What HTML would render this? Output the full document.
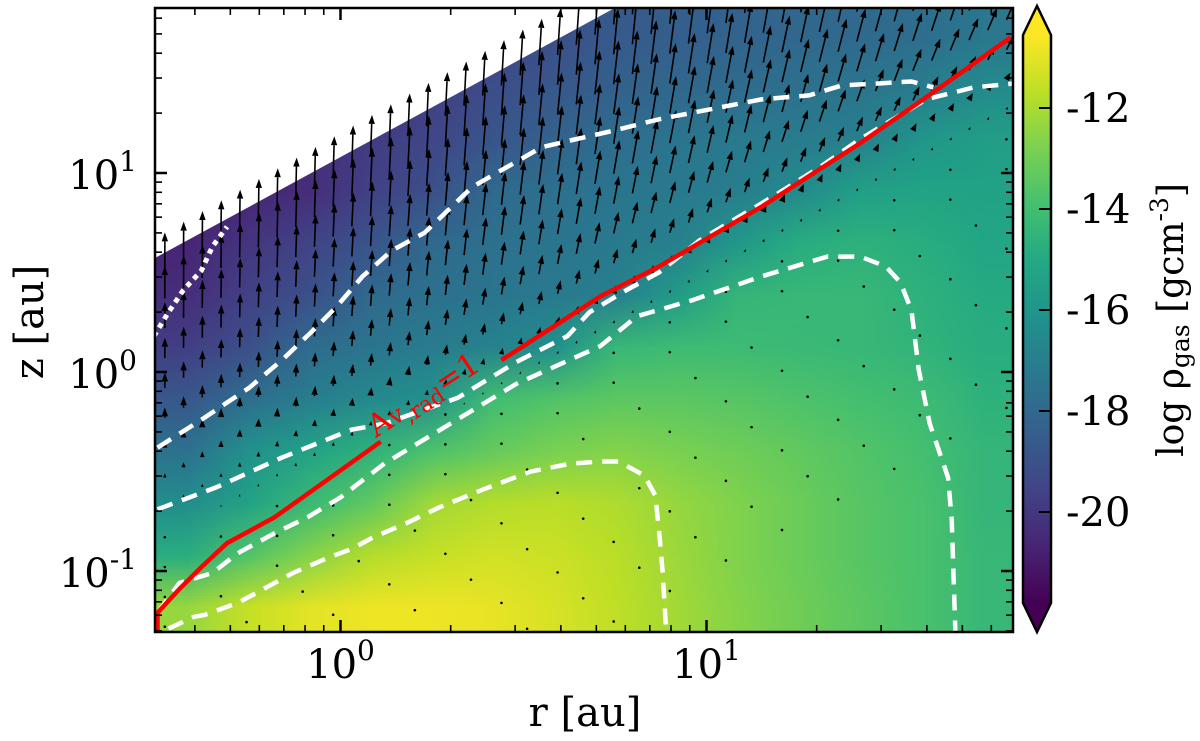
<!DOCTYPE html>
<html><head><meta charset="utf-8"><style>
html,body{margin:0;padding:0;background:#fff;}
#wrap{position:relative;width:1200px;height:741px;overflow:hidden;}
#heat{position:absolute;left:155px;top:8px;width:858px;height:624px;image-rendering:auto;}
#ov{position:absolute;left:0;top:0;}
text{font-family:"DejaVu Serif","Liberation Serif",serif;}
</style></head><body>
<div id="wrap">
<canvas id="heat" width="14" height="12"></canvas>
<svg id="ov" width="1200" height="741" xmlns="http://www.w3.org/2000/svg">
<defs>
<clipPath id="plotclip"><rect x="155" y="8" width="858" height="624"/></clipPath>
<linearGradient id="cbgrad" x1="0" y1="1" x2="0" y2="0">
<stop offset="0" stop-color="#440154"/><stop offset="0.1" stop-color="#482475"/><stop offset="0.2" stop-color="#414487"/><stop offset="0.3" stop-color="#355f8d"/><stop offset="0.4" stop-color="#2a788e"/><stop offset="0.5" stop-color="#21918c"/><stop offset="0.6" stop-color="#22a884"/><stop offset="0.7" stop-color="#44bf70"/><stop offset="0.8" stop-color="#7ad151"/><stop offset="0.9" stop-color="#bddf26"/><stop offset="1" stop-color="#fde725"/>
</linearGradient>
</defs>
<g id="plot" clip-path="url(#plotclip)"></g>
<g id="axes"></g>
<g id="cbar"></g>
</svg>
</div>
<script>
// ---- data ----
const gridLogR = [-0.423,-0.256,-0.089,0.080,0.247,0.414,0.583,0.750,0.917,1.085,1.252,1.418,1.585,1.754];
const gridLogZ = [1.699,1.438,1.176,0.915,0.653,0.392,0.131,-0.131,-0.392,-0.653,-0.915,-1.176];
const logRho = [
[-20.5,-20.5,-20.5,-20.5,-20.2,-19.6,-19.0,-18.6,-18.4,-18.2,-18.0,-17.9,-17.7,-17.3],
[-20.5,-20.5,-20.5,-20.3,-19.7,-19.1,-18.7,-18.3,-18.0,-17.8,-17.6,-17.4,-17.1,-16.4],
[-20.7,-20.6,-20.4,-19.8,-19.4,-18.8,-18.2,-17.7,-17.4,-17.2,-17.1,-16.9,-15.9,-15.5],
[-20.8,-20.6,-20.3,-19.6,-19.0,-17.9,-17.6,-17.4,-17.2,-17.0,-16.4,-15.4,-15.2,-15.3],
[-20.6,-20.0,-19.5,-18.8,-17.9,-17.6,-17.4,-17.2,-16.9,-15.8,-14.8,-14.6,-14.8,-15.1],
[-20.3,-19.6,-19.0,-17.9,-17.6,-17.4,-17.2,-16.9,-15.6,-14.4,-14.3,-14.3,-14.6,-14.9],
[-19.7,-19.0,-17.8,-17.4,-17.1,-16.8,-16.2,-14.3,-14.1,-14.1,-14.2,-14.3,-14.5,-14.8],
[-18.7,-17.7,-17.0,-16.5,-16.1,-14.0,-13.6,-13.4,-13.4,-13.5,-13.7,-13.9,-14.1,-14.6],
[-17.6,-16.1,-15.3,-14.6,-13.7,-13.2,-12.8,-12.6,-12.8,-13.0,-13.3,-13.6,-13.9,-14.4],
[-16.3,-15.3,-14.2,-13.3,-12.1,-11.8,-11.7,-11.9,-12.3,-12.7,-13.1,-13.5,-13.8,-14.4],
[-14.8,-13.6,-12.6,-11.8,-11.5,-11.3,-11.4,-11.7,-12.2,-12.7,-13.1,-13.5,-13.8,-14.3],
[-12.3,-11.5,-11.0,-10.8,-10.8,-10.9,-11.2,-11.6,-12.1,-12.6,-13.0,-13.4,-13.8,-14.3]];
const contourA_r = [-0.47,-0.40,-0.37,-0.28,-0.18,-0.13,-0.03,0.03,0.09,0.18,0.27,0.39,0.52,0.63,0.71,0.76,0.83,0.86,0.87,0.88,0.89];
const contourA_z = [-1.29,-1.23,-1.22,-1.16,-1.06,-1.01,-0.93,-0.89,-0.83,-0.76,-0.68,-0.59,-0.50,-0.46,-0.45,-0.45,-0.52,-0.62,-0.79,-1.00,-1.31];
const contourB_r = [-0.50,-0.44,-0.35,-0.28,-0.18,-0.09,0.00,0.12,0.30,0.48,0.71,0.81,0.96,1.15,1.33,1.42,1.49,1.53,1.56,1.58,1.61,1.66,1.67,1.68];
const contourB_z = [-1.21,-1.06,-1.01,-0.91,-0.81,-0.73,-0.63,-0.46,-0.26,-0.06,0.13,0.28,0.36,0.48,0.58,0.58,0.53,0.45,0.31,0.01,-0.26,-0.53,-0.74,-1.31];
const contourC_r = [-0.50,-0.34,-0.16,0.03,0.12,0.32,0.48,0.62,0.68,0.78,0.87,0.98,1.07,1.18,1.31,1.42,1.51,1.60,1.73,1.84];
const contourC_z = [-0.69,-0.58,-0.43,-0.29,-0.26,-0.13,0.05,0.18,0.30,0.41,0.50,0.66,0.76,0.88,1.03,1.17,1.27,1.37,1.43,1.45];
const contourD_r = [-0.50,-0.38,-0.25,-0.16,-0.08,-0.01,0.06,0.14,0.23,0.36,0.55,0.62,0.74,0.87,1.01,1.15,1.28,1.37,1.47,1.56,1.62];
const contourD_z = [-0.38,-0.24,-0.08,0.06,0.20,0.33,0.48,0.61,0.70,0.93,1.13,1.16,1.21,1.27,1.32,1.37,1.39,1.44,1.45,1.46,1.43];
const contourE_r = [-0.51,-0.47,-0.43,-0.38,-0.35,-0.31];
const contourE_z = [0.18,0.30,0.41,0.51,0.63,0.73];
const avLine1_r = [-0.50,-0.50,-0.44,-0.38,-0.31,-0.18,-0.05,0.11];
const avLine1_z = [-1.31,-1.21,-1.09,-0.98,-0.86,-0.73,-0.56,-0.35];
const avLine2_r = [0.44,0.71,0.87,1.15,1.42,1.60,1.83];
const avLine2_z = [0.06,0.38,0.53,0.83,1.15,1.38,1.68];
const boundaryTheta = 1.08; // log(z/r) of upper data edge
const arrowTheta = [1.0,0.85,0.7,0.55,0.4,0.25,0.1,-0.05,-0.2,-0.35,-0.5,-0.65];
const magLeft  = [36,32,26,20,15,10,6,4,2,1,0,0];
const magMid   = [48,46,44,41,38,34,28,22,15,8,3,1];
const magRight = [46,44,42,40,37,34,30,24,16,8,3,1];
const rowTilt  = [8,10,12,14,16,18,20,24,28,30,32,34];
const dotTheta = [-0.8,-1.0,-1.2,-1.4,-1.6,-1.8,-2.0];
const xTicks = [0,1];
const yTicks = [-1,0,1];
const cbTicks = [-12,-14,-16,-18,-20];
const cbMin = -21.76, cbMax = -10.53;

// ---- scales ----
const X = lr => 340.5 + 366*lr;
const Y = lz => 372 - 199*lz;
const CBY = v => 108 + (-12 - v)*50.5;
const vir = ["#440154","#482475","#414487","#355f8d","#2a788e","#21918c","#22a884","#44bf70","#7ad151","#bddf26","#fde725"];
function hex(h){return [1,3,5].map(i=>parseInt(h.substr(i,2),16));}
function cmap(v){let t=(v-cbMin)/(cbMax-cbMin);t=Math.max(0,Math.min(1,t))*10;const i=Math.min(9,Math.floor(t)),f=t-i;const a=hex(vir[i]),b=hex(vir[i+1]);return a.map((c,k)=>Math.round(c+(b[k]-c)*f));}

// heatmap
const cv=document.getElementById('heat');const ctx=cv.getContext('2d');
const img=ctx.createImageData(14,12);
for(let j=0;j<gridLogZ.length;j++)for(let i=0;i<gridLogR.length;i++){const c=cmap(logRho[j][i]);const o=(j*14+i)*4;img.data[o]=c[0];img.data[o+1]=c[1];img.data[o+2]=c[2];img.data[o+3]=255;}
ctx.putImageData(img,0,0);

const NS="http://www.w3.org/2000/svg";
function mk(tag,attrs,parent){const e=document.createElementNS(NS,tag);for(const k in attrs)e.setAttribute(k,attrs[k]);parent.appendChild(e);return e;}
const plot=document.getElementById('plot');
{const r0=-0.6,r1=1.9;const p=mk('polygon',{points:`${X(r0)},${Y(r0+boundaryTheta)} ${X(r1)},${Y(r1+boundaryTheta)} ${X(r0)},-50`,fill:'#fff'},plot);

}

// arrows
const arrows=mk('g',{},plot);


for(let j=0;j<arrowTheta.length;j++){
 for(let k=0;k<46;k++){
  const lr=-0.48+k*0.0511; const lz=lr+arrowTheta[j];
  const px=X(lr),py=Y(lz); if(py<8||py>632)continue;
  let m; if(lr<0.7){const f=(lr+0.5)/1.2;m=magLeft[j]+(magMid[j]-magLeft[j])*f;}else{const f=(lr-0.7)/1.1;m=magMid[j]+(magRight[j]-magMid[j])*f;}
  const tilt=rowTilt[j]*(lr+0.5)/2.33*Math.PI/180;
  if(m<2){ if(k%3===0){const d=mk('circle',{cx:px,cy:py,r:1.3,fill:'#000'},arrows);
    
    } continue;}
  const sx=Math.sin(tilt),sy=-Math.cos(tilt);
  const hl=Math.min(9,m),hw=Math.min(3.2,m*0.4);
  const tx=px+sx*m,ty=py+sy*m; const bx=tx-sx*hl,by=ty-sy*hl;
  const g=mk('g',{},arrows);
  
  
  if(m>hl) mk('line',{x1:px,y1:py,x2:bx,y2:by,stroke:'#000','stroke-width':1.6},g);
  mk('polygon',{points:`${tx},${ty} ${bx-sy*hw},${by+sx*hw} ${bx+sy*hw},${by-sx*hw}`,fill:'#000'},g);
 }
}
for(let j=0;j<dotTheta.length;j++){for(let k=0;k<46;k+=3){const lr=-0.48+k*0.0511+(j%2)*0.07;const py=Y(lr+dotTheta[j]);if(py<8||py>632)continue;
 const d=mk('circle',{cx:X(lr),cy:py,r:1.3,fill:'#000'},arrows);
 
 }}

function poly(rs,zs,attrs,name){const pts=rs.map((r,i)=>X(r)+','+Y(zs[i])).join(' ');const e=mk('polyline',Object.assign({points:pts,fill:'none'},attrs),plot);
 
 return e;}
const dash={stroke:'#fff','stroke-width':4.5,'stroke-dasharray':'16 10'};
poly(contourA_r,contourA_z,dash,'contour-minus12');
poly(contourB_r,contourB_z,dash,'contour-minus14');
poly(contourC_r,contourC_z,dash,'contour-minus16');
poly(contourD_r,contourD_z,dash,'contour-minus18');
poly(contourE_r,contourE_z,{stroke:'#fff','stroke-width':5,'stroke-dasharray':'5 5'},'contour-minus20');
poly(avLine1_r,avLine1_z,{stroke:'#ff0000','stroke-width':4.5},'av-rad-line');
poly(avLine2_r,avLine2_z,{stroke:'#ff0000','stroke-width':4.5},'av-rad-line-upper');
{const t=mk('text',{x:0,y:0,fill:'#ff0000','font-size':31,transform:'translate(376,438) rotate(-33)'},plot);
 
 
 t.innerHTML='A<tspan font-size="24">v</tspan><tspan font-size="22" dy="6">,rad</tspan><tspan dy="-6">=1</tspan>';}

// axes
const axes=document.getElementById('axes');
mk('rect',{x:155,y:8,width:858,height:624,fill:'none',stroke:'#000','stroke-width':2.5},axes);
function tk(x1,y1,x2,y2,w){mk('line',{x1,y1,x2,y2,stroke:'#000','stroke-width':w},axes);}
for(let d=-1;d<=1;d++)for(let m=1;m<=9;m++){const lr=d+Math.log10(m);const px=X(lr);if(px<156||px>1012)continue;const L=m===1?12:7,w=m===1?2.5:1.6;tk(px,632,px,632-L,w);tk(px,8,px,8+L,w);}
for(let d=-2;d<=1;d++)for(let m=1;m<=9;m++){const lz=d+Math.log10(m);const py=Y(lz);if(py<9||py>631)continue;const L=m===1?12:7,w=m===1?2.5:1.6;tk(155,py,155+L,py,w);tk(1013,py,1013-L,py,w);}
xTicks.forEach(v=>{const t=mk('text',{x:X(v),y:678,'font-size':40,'text-anchor':'middle'},axes);
 
 
 t.innerHTML='10<tspan dy="-18" font-size="28">'+v+'</tspan>';});
yTicks.forEach(v=>{const t=mk('text',{x:137,y:Y(v)+16,'font-size':40,'text-anchor':'end'},axes);
 
 
 t.innerHTML='10<tspan dy="-18" font-size="28">'+v+'</tspan>';});
{const t=mk('text',{x:585,y:726,'font-size':40,'text-anchor':'middle'},axes);t.textContent='r [au]';
 
 }
{const t=mk('text',{x:0,y:0,'font-size':40,'text-anchor':'middle',transform:'translate(43,322) rotate(-90)'},axes);t.textContent='z [au]';
 
 }

// colorbar
const cb=document.getElementById('cbar');
mk('path',{d:'M1023,35 L1037,6 L1051,35 Z',fill:'#fde725'},cb);
mk('rect',{x:1023,y:35,width:28,height:568,fill:'url(#cbgrad)'},cb);
mk('path',{d:'M1023,603 L1037,632 L1051,603 Z',fill:'#440154'},cb);
mk('path',{d:'M1023,35 L1037,6 L1051,35 L1051,603 L1037,632 L1023,603 Z',fill:'none',stroke:'#000','stroke-width':2.5},cb);
function tk2(y){mk('line',{x1:1039,y1:y,x2:1051,y2:y,stroke:'#000','stroke-width':2},cb);}
cbTicks.forEach(v=>{const y=CBY(v);tk2(y);const t=mk('text',{x:1066,y:y+14,'font-size':40},cb);t.textContent=String(v);
 
 });
{const t=mk('text',{x:0,y:0,'font-size':36,'text-anchor':'middle',transform:'translate(1183,320) rotate(-90)'},cb);
 
 
 t.innerHTML='log ρ<tspan font-size="25" dy="6">gas</tspan><tspan dy="-6"> [gcm</tspan><tspan font-size="25" dy="-15">-3</tspan><tspan dy="15">]</tspan>';}
</script>
</body></html>
